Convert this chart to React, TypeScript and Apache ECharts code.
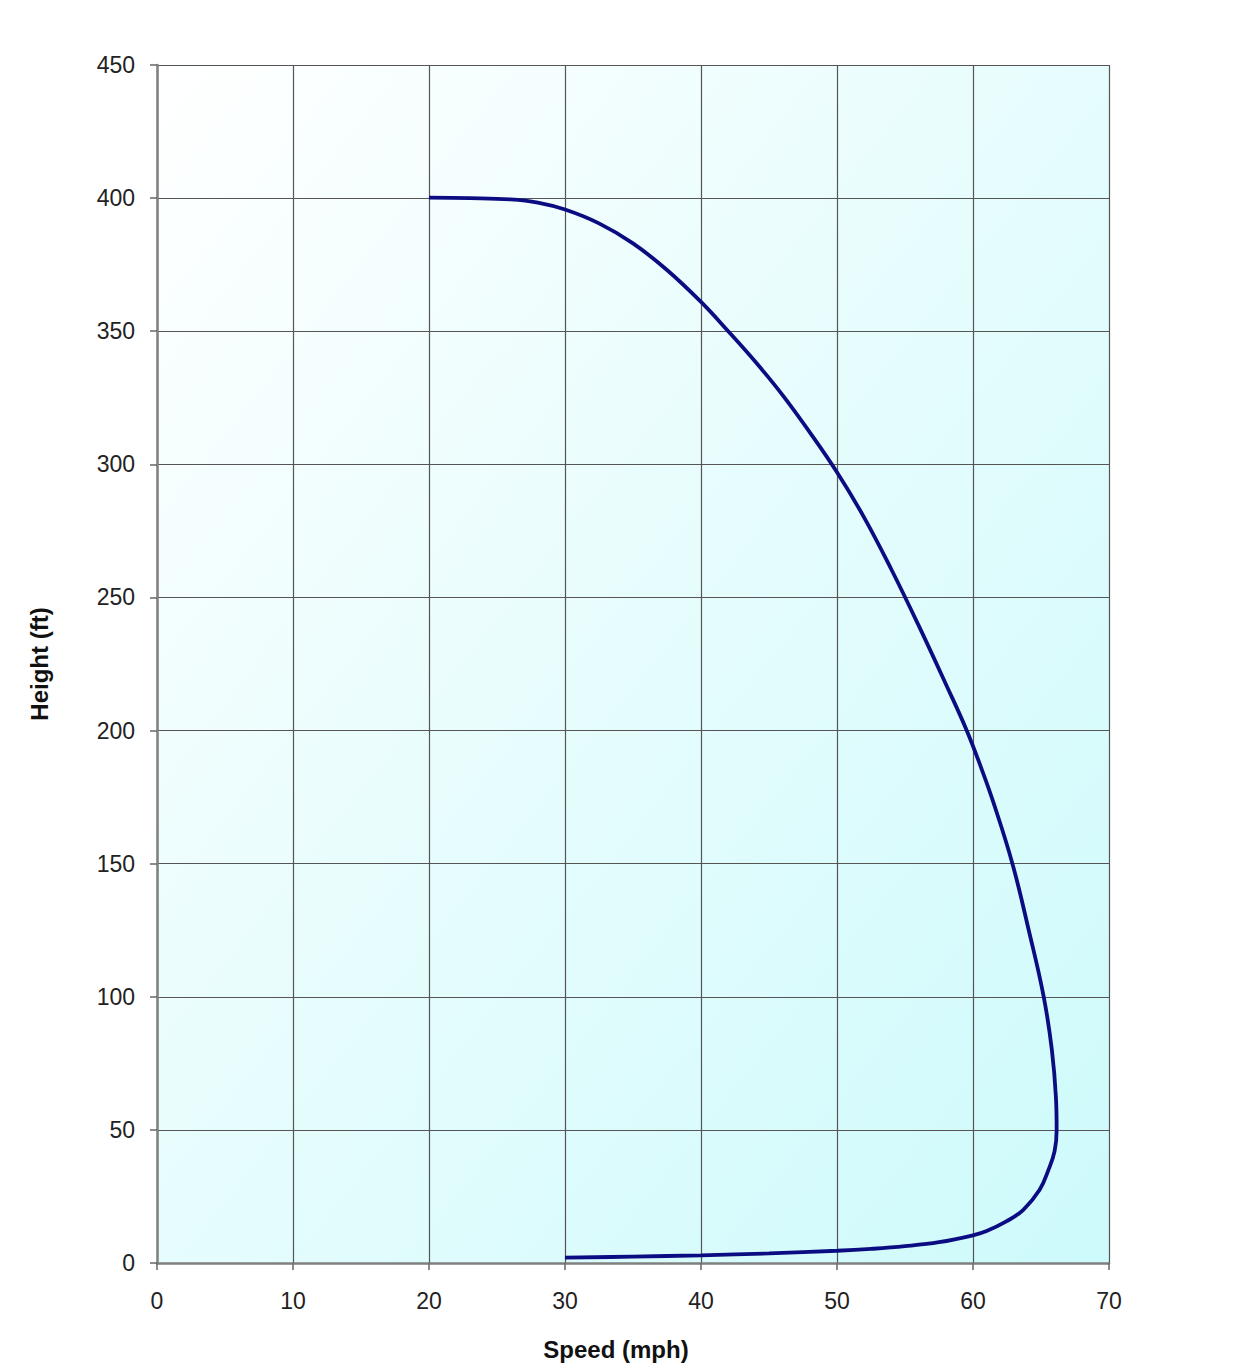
import React, { useEffect, useRef } from "react";
import * as echarts from "echarts";

const speedMph = [
  20, 23, 26, 28, 30, 32.5, 35, 37.5, 40, 42, 44, 46, 48, 50, 52, 54, 56, 58, 59.5, 60.6, 61.5, 62.9, 64.1,
  65.2, 65.8, 66.1, 66.15, 66.0, 65.55, 64.9, 63.7, 62.45, 61, 60, 57.5, 55, 52.5, 50, 45, 40, 35, 30,
];
const heightFt = [
  400.2, 400, 399.5, 398.3, 395.7, 390.5, 383, 373, 361, 350, 338.5, 326, 312, 297, 280, 260.5, 239.5, 217.5,
  200.5, 186, 173, 150, 125, 100, 80, 62, 50, 42, 35, 27.5, 20, 15.6, 12, 10.4, 7.8, 6.3, 5.3, 4.6, 3.6, 2.9,
  2.4, 2,
];
const xTicks = [0, 10, 20, 30, 40, 50, 60, 70];
const yTicks = [0, 50, 100, 150, 200, 250, 300, 350, 400, 450];

const FONT = "'Liberation Sans', Arial, sans-serif";

export default function App() {
  const ref = useRef<HTMLDivElement>(null);
  useEffect(() => {
    if (!ref.current) return;
    const chart = echarts.init(ref.current, undefined, { renderer: "svg" });
    const data = speedMph.map((s, i) => [s, heightFt[i]]);
    chart.setOption({
      animation: false,
      backgroundColor: "#ffffff",
      grid: {
        left: 157,
        top: 65,
        width: 952,
        height: 1198,
        show: true,
        borderWidth: 0,
        backgroundColor: new echarts.graphic.LinearGradient(0, 0, 1, 1, [
          { offset: 0, color: "#ffffff" },
          { offset: 1, color: "#cdfafb" },
        ]),
      },
      xAxis: {
        type: "value",
        min: xTicks[0],
        max: xTicks[xTicks.length - 1],
        interval: 10,
        name: "Speed (mph)",
        nameLocation: "middle",
        nameGap: 74,
        nameTextStyle: { fontFamily: FONT, fontSize: 24, fontWeight: "bold", color: "#111", padding: [0, 34, 0, 0] },
        axisLine: { show: true, onZero: false, lineStyle: { color: "#808080", width: 2.5 } },
        axisTick: { show: true, length: 7, lineStyle: { color: "#666", width: 1.5 } },
        axisLabel: { fontFamily: FONT, fontSize: 23, color: "#222", margin: 26 },
        splitLine: { show: true, lineStyle: { color: "#555", width: 1.2 } },
      },
      yAxis: {
        type: "value",
        min: yTicks[0],
        max: yTicks[yTicks.length - 1],
        interval: 50,
        name: "Height (ft)",
        nameLocation: "middle",
        nameGap: 106,
        nameRotate: 90,
        nameTextStyle: { fontFamily: FONT, fontSize: 24, fontWeight: "bold", color: "#111" },
        axisLine: { show: true, onZero: false, lineStyle: { color: "#808080", width: 2.5 } },
        axisTick: { show: true, length: 7, lineStyle: { color: "#666", width: 1.5 } },
        axisLabel: { fontFamily: FONT, fontSize: 23, color: "#222", margin: 22 },
        splitLine: { show: true, lineStyle: { color: "#555", width: 1.2 } },
      },
      series: [
        {
          type: "line",
          data,
          smooth: 0.4,
          showSymbol: false,
          symbol: "none",
          lineStyle: { color: "#0c0c82", width: 3.8 },
        },
      ],
    });
    return () => chart.dispose();
  }, []);
  return (
    <div
      ref={ref}
      style={{ position: "fixed", left: 0, top: 0, width: 1233, height: 1366 }}
    />
  );
}
